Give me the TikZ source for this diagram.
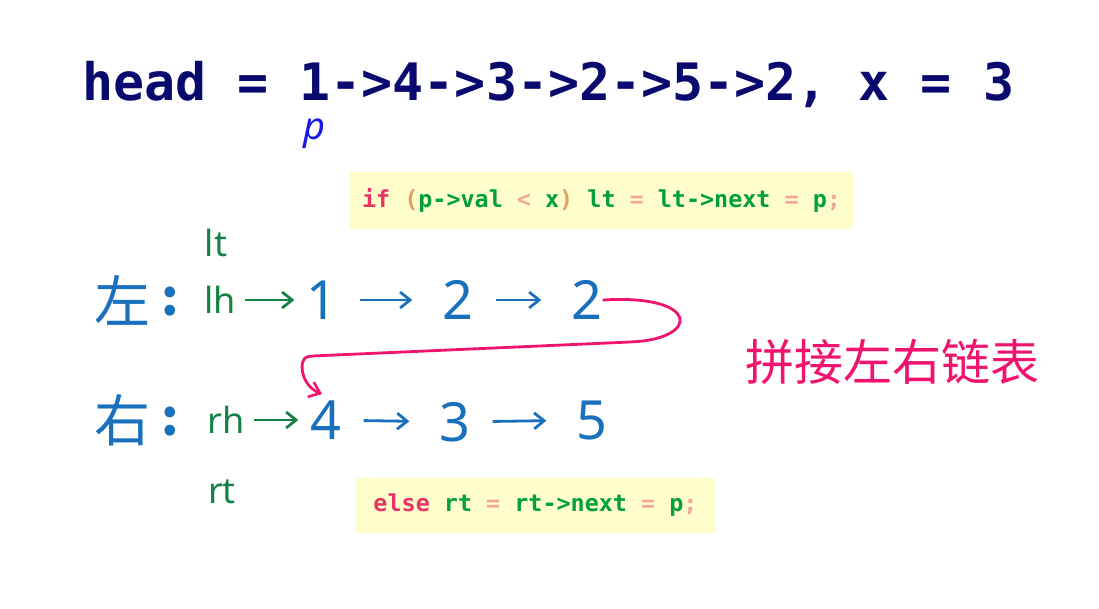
\documentclass[tikz,border=0pt]{standalone}
\usepackage{fontspec}
\newfontfamily\codefont{DejaVu Sans Mono}
\newfontfamily\cjk{Noto Sans CJK SC}
\newfontfamily\handfont{Noto Sans}
\usetikzlibrary{arrows.meta, positioning}

\definecolor{navy}{RGB}{10,10,110}
\definecolor{kwred}{RGB}{232,52,100}
\definecolor{codegreen}{RGB}{0,160,60}
\definecolor{parenorange}{RGB}{228,160,100}
\definecolor{oppink}{RGB}{240,168,158}
\definecolor{notebg}{RGB}{255,253,204}
\definecolor{inkblue}{RGB}{25,112,188}
\definecolor{inkgreen}{RGB}{20,130,70}
\definecolor{inkpink}{RGB}{240,20,110}
\definecolor{pblue}{RGB}{25,25,230}

\newcommand{\kw}[1]{\textcolor{kwred}{#1}}
\newcommand{\op}[1]{\textcolor{oppink}{#1}}
\newcommand{\pr}[1]{\textcolor{parenorange}{#1}}

\begin{document}
\begin{tikzpicture}[
    x=1pt, y=-1pt,
    title/.style={inner sep=0pt, anchor=base west, text=navy, font=\codefont\bfseries\fontsize{51.6}{60}\selectfont},
    note/.style={fill=notebg, inner sep=0pt, text=codegreen, font=\codefont\bfseries\fontsize{23.4}{28}\selectfont},
    side/.style={inner sep=0pt, text=inkblue, font=\cjk\fontsize{56}{60}\selectfont},
    colon/.style={inner sep=0pt, text=inkblue, font=\cjk\bfseries\fontsize{50}{60}\selectfont},
    ptr/.style={inner sep=0pt, text=inkgreen, font=\handfont\fontsize{36}{40}\selectfont},
    num/.style={inner sep=0pt, text=inkblue, font=\handfont\fontsize{54}{60}\selectfont},
    link/.style={-{Straight Barb[length=10pt, width=16pt, line width=2.8pt]}, line width=2.8pt, inkblue, shorten <=22pt, shorten >=30pt},
    ptrlink/.style={link, inkgreen, shorten <=9pt, shorten >=12pt},
    splice/.style={-{Straight Barb[length=10pt, width=16pt, line width=2.6pt]}, line width=2.8pt, inkpink, rounded corners=4pt}
]
\useasboundingbox (0,0) rectangle (1099,608);

% title line and the cursor
\node[title] (head) at (82,100) {head = 1->4->3->2->5->2, x = 3};
\node[inner sep=0pt, text=pblue, font=\handfont\itshape\fontsize{38}{40}\selectfont] (p) at (314,134) {p};

% code notes
\node[note, minimum width=503pt, minimum height=57pt] (ifnote) at (601.5,200.5)
    {\kw{if} \pr{(}p->val \op{<} x\pr{)} lt \op{=} lt->next \op{=} p\op{;}};
\node[note, minimum width=359pt, minimum height=55pt] (elsenote) at (535.5,505.5)
    {\kw{else} rt \op{=} rt->next \op{=} p\op{;}};

% left list
\node[side] (left) at (122,300) {左};
\node[colon] (leftc) at (170,302) {:};
\node[ptr] (lt) at (216,243) {lt};
\node[ptr] (lh) at (220,300) {lh};
\node[num] (l1) at (322,300) {1};
\node[num] (l2) at (458,300) {2};
\node[num] (l3) at (587,300) {2};

\draw[ptrlink] (lh) -- (l1);
\draw[link] (l1) -- (l2);
\draw[link] (l2) -- (l3);

% right list
\node[side] (right) at (122,420) {右};
\node[colon] (rightc) at (170,422) {:};
\node[ptr] (rh) at (226,420) {rh};
\node[ptr] (rt) at (222,492) {rt};
\node[num] (r1) at (326,420) {4};
\node[num] (r2) at (455,422) {3};
\node[num] (r3) at (592,420) {5};

\draw[ptrlink] (rh) -- (r1);
\draw[link] (r1) -- (r2);
\draw[link] (r2) -- (r3);

% splice the two lists
\draw[splice] (l3.east) .. controls (700,294) and (700,338) .. (630,342)
    -- (312,356) .. controls (298,358) and (300,385) .. (322,394);
\node[inner sep=0pt, text=inkpink, font=\cjk\fontsize{49}{52}\selectfont] (join) at (892,362) {拼接左右链表};

\end{tikzpicture}
\end{document}
